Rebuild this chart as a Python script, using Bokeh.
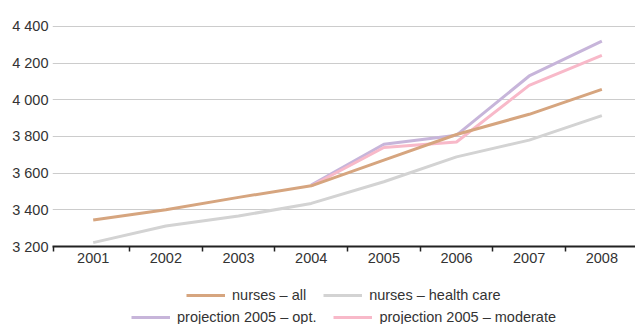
from bokeh.plotting import figure
from bokeh.layouts import column
from bokeh.models import (ColumnDataSource, FixedTicker, Legend, LegendItem,
                          Range1d)
from bokeh.embed import file_html
from bokeh.resources import INLINE

# Number of nurses (thousands), actual figures and 2005 projections
years = ["2001", "2002", "2003", "2004", "2005", "2006", "2007", "2008"]
nurses_all = [3345, 3400, 3468, 3531, 3671, 3811, 3921, 4057]
nurses_health_care = [3221, 3312, 3366, 3435, 3553, 3689, 3780, 3914]
projection_years = ["2004", "2005", "2006", "2007", "2008"]
projection_opt = [3535, 3758, 3807, 4130, 4320]
projection_moderate = [3530, 3740, 3770, 4079, 4242]
y_ticks = [3200, 3400, 3600, 3800, 4000, 4200, 4400]

FONT = "Liberation Sans"
FONT_SIZE = "14.5px"
TEXT = "#333333"
LINE_W = 3

idx = {y: i for i, y in enumerate(years)}
series = [
    ("nurses – all", "#D6A57F",
     ColumnDataSource(dict(x=[idx[y] for y in years], y=nurses_all))),
    ("nurses – health care", "#D3D3D3",
     ColumnDataSource(dict(x=[idx[y] for y in years], y=nurses_health_care))),
    ("projection 2005 – opt.", "#C7B5DA",
     ColumnDataSource(dict(x=[idx[y] for y in projection_years], y=projection_opt))),
    ("projection 2005 – moderate", "#F8B9C9",
     ColumnDataSource(dict(x=[idx[y] for y in projection_years], y=projection_moderate))),
]

# ---- main chart -----------------------------------------------------------
p = figure(width=635, height=276, output_backend="svg", toolbar_location=None,
           x_range=Range1d(-0.56, 7.463), y_range=Range1d(3200, 4498),
           min_border_left=52, min_border_right=0, min_border_top=8,
           min_border_bottom=30)
p.outline_line_color = None

# health care first, then projections, "all" on top
for k in (1, 2, 3, 0):
    name, color, src = series[k]
    p.line("x", "y", source=src, line_color=color, line_width=LINE_W)

# x axis: year labels at category centres, ticks between categories
p.xgrid.visible = False
xax = p.xaxis[0]
xax.ticker = FixedTicker(ticks=list(range(len(years))),
                         minor_ticks=[-0.55] + [i + 0.5 for i in range(len(years) - 1)])
xax.major_label_overrides = {i: y for i, y in enumerate(years)}
xax.axis_line_color = "#222222"
xax.axis_line_width = 2
xax.major_tick_line_color = None
xax.major_tick_out = 5
xax.major_tick_in = 0
xax.minor_tick_line_color = "#222222"
xax.minor_tick_line_width = 1.5
xax.minor_tick_out = 5
xax.minor_tick_in = 0
xax.major_label_standoff = 1
xax.major_label_text_font = FONT
xax.major_label_text_font_size = FONT_SIZE
xax.major_label_text_color = TEXT

# y axis: labels only, with space as thousands separator
yax = p.yaxis[0]
yax.ticker = FixedTicker(ticks=y_ticks)
yax.major_label_overrides = {t: f"{t:,}".replace(",", " ") for t in y_ticks}
yax.axis_line_color = None
yax.major_tick_line_color = None
yax.minor_tick_line_color = None
yax.major_tick_out = 0
yax.major_label_standoff = 4
yax.major_label_text_font = FONT
yax.major_label_text_font_size = FONT_SIZE
yax.major_label_text_color = TEXT
p.ygrid.ticker = FixedTicker(ticks=y_ticks)
p.ygrid.grid_line_color = "#CCCCCC"
p.ygrid.grid_line_width = 1

# ---- legend strip under the chart ----------------------------------------
# the same series are attached here only to supply the legend keys; the
# strip's ranges keep the lines themselves out of view
lg = figure(width=635, height=48, output_backend="svg", toolbar_location=None,
            x_range=Range1d(-0.56, 7.463), y_range=Range1d(0, 1),
            x_axis_type=None, y_axis_type=None,
            min_border_left=52, min_border_right=0, min_border_top=0,
            min_border_bottom=0)
lg.outline_line_color = None
keys = {name: lg.line("x", "y", source=src, line_color=color, line_width=LINE_W)
        for name, color, src in series}


def make_legend(names, loc):
    return Legend(items=[LegendItem(label=n, renderers=[keys[n]]) for n in names],
                  location=loc, orientation="horizontal",
                  glyph_width=39, glyph_height=16, label_height=16,
                  label_standoff=7, spacing=17, padding=0, margin=0,
                  background_fill_alpha=0, border_line_color=None,
                  label_text_font=FONT, label_text_font_size=FONT_SIZE,
                  label_text_color=TEXT)


lg.add_layout(make_legend([series[0][0], series[1][0]], (134, 21)))
lg.add_layout(make_legend([series[2][0], series[3][0]], (79, -1)))

layout = column(p, lg, spacing=0)
open("out.html", "w").write(file_html(layout, INLINE))
